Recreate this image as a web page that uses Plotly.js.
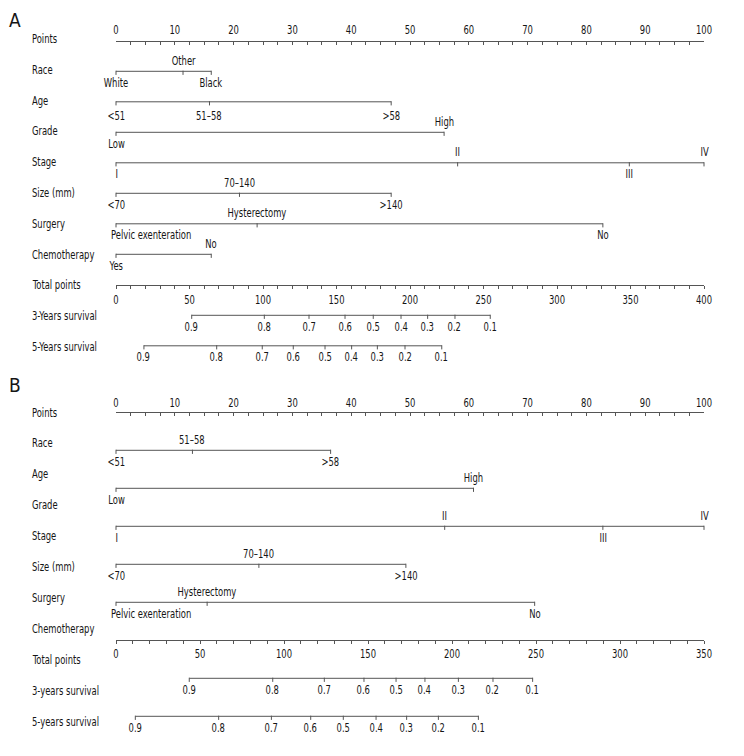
<!DOCTYPE html>
<html>
<head>
<meta charset="utf-8">
<script src="https://cdn.plot.ly/plotly-3.0.1.min.js"></script>
<style>html,body{margin:0;padding:0;background:#fff;}#chart{width:744px;height:756px;}svg text{-webkit-font-smoothing:antialiased;}</style>
</head>
<body>
<div id="chart"></div>
<script>
// ---------------- DATA ----------------
// Panel A
const aRowNames = ['Points','Race','Age','Grade','Stage','Size (mm)','Surgery','Chemotherapy','Total points','3-Years survival','5-Years survival'];
const aRaceLabels = ['White','Other','Black'];
const aRacePoints = [0, 11.4, 16.2];
const aAgeLabels = ['<51','51\u201358','>58'];
const aAgePoints = [0, 15.9, 46.8];
const aGradeLabels = ['Low','High'];
const aGradePoints = [0, 55.8];
const aStageLabels = ['I','II','III','IV'];
const aStagePoints = [0, 58.1, 87.3, 100];
const aSizeLabels = ['<70','70\u2013140','>140'];
const aSizePoints = [0, 21.0, 46.8];
const aSurgeryLabels = ['Pelvic exenteration','Hysterectomy','No'];
const aSurgeryPoints = [0, 24.0, 82.8];
const aChemoLabels = ['Yes','No'];
const aChemoPoints = [0, 16.2];
const aTotalMax = 400;
const survLabels = ['0.9','0.8','0.7','0.6','0.5','0.4','0.3','0.2','0.1'];
const aSurv3Total = [51.5, 100.9, 131.3, 155.8, 175.0, 193.9, 212.0, 230.6, 254.6];
const aSurv5Total = [19.0, 68.5, 99.5, 120.6, 142.2, 160.3, 177.8, 196.6, 221.6];

// Panel B
const bRowNames = ['Points','Race','Age','Grade','Stage','Size (mm)','Surgery','Chemotherapy','Total points','3-years survival','5-years survival'];
const bAgeLabels = ['<51','51\u201358','>58'];
const bAgePoints = [0, 13.0, 36.5];
const bGradeLabels = ['Low','High'];
const bGradePoints = [0, 60.8];
const bStageLabels = ['I','II','III','IV'];
const bStagePoints = [0, 55.9, 82.8, 100];
const bSizeLabels = ['<70','70\u2013140','>140'];
const bSizePoints = [0, 24.3, 49.3];
const bSurgeryLabels = ['Pelvic exenteration','Hysterectomy','No'];
const bSurgeryPoints = [0, 15.5, 71.2];
const bTotalMax = 350;
const bSurv3Total = [43.6, 93.3, 124.0, 147.6, 166.7, 183.9, 203.8, 224.4, 248.0];
const bSurv5Total = [11.5, 61.1, 92.5, 115.9, 135.3, 154.8, 173.0, 191.9, 215.7];

// ---------------- LAYOUT / STYLE ----------------
const W = 744, H = 756;
const FONT = '"DejaVu Sans Condensed", "Liberation Sans Narrow", "Liberation Sans", sans-serif';
const TXT = '#151515', LINE = '#555555', FS = 13;
const NARROW = 0.72;           // horizontal squeeze to mimic a condensed face
const mL = 116, mR = 40;
const plotW = W - mL - mR;
const nameX = (30 - mL) / plotW;

// row geometry (pixels from top)
const aNameY = i => 38.5 + 30.8 * i;
const aLineY = i => 40.8 + 30.5 * i;
const bNameY = i => 412 + 30.9 * i;
const bLineY = j => 412.3 + 38.0 * j;

// label sides (above / below)
const sideCat3 = ['below','above','below'];
const side2 = ['below','above'];
const sideStage = ['below','above','below','above'];
const sideAllBelow3 = ['below','below','below'];
const sideSurv = Array(9).fill('below');

const traces = [];
const annotations = [];

function addRow(xs, labels, sides, yLine, xref, below) {
  const off = below || 11;
  traces.push({
    type: 'scatter', mode: 'lines', xaxis: xref, yaxis: 'y',
    x: [Math.min(...xs), Math.max(...xs)], y: [yLine, yLine],
    line: {color: LINE, width: 1}, hoverinfo: 'skip', cliponaxis: false, showlegend: false
  });
  traces.push({
    type: 'scatter', mode: 'markers', xaxis: xref, yaxis: 'y',
    x: xs, y: xs.map(() => yLine + 1.5),
    marker: {symbol: 'line-ns', size: 3, line: {color: LINE, width: 1}},
    hoverinfo: 'skip', cliponaxis: false, showlegend: false
  });
  xs.forEach((v, k) => {
    const above = sides[k] === 'above';
    const long = v === Math.min(...xs) && labels[k].length > 6;
    annotations.push({
      xref: xref, yref: 'y', x: v, y: above ? yLine - 11 : yLine + off,
      text: labels[k], showarrow: false,
      xanchor: long ? 'left' : 'center', align: long ? 'left' : 'center',
      xshift: long ? -7 : 0, yanchor: 'middle',
      font: {family: FONT, size: FS, color: TXT}
    });
  });
}

// Panel A rows
addRow(aRacePoints, aRaceLabels, sideCat3, aLineY(1), 'x');
addRow(aAgePoints, aAgeLabels, sideAllBelow3, aLineY(2), 'x', 14);
addRow(aGradePoints, aGradeLabels, side2, aLineY(3), 'x');
addRow(aStagePoints, aStageLabels, sideStage, aLineY(4), 'x');
addRow(aSizePoints, aSizeLabels, sideCat3, aLineY(5), 'x');
addRow(aSurgeryPoints, aSurgeryLabels, sideCat3, aLineY(6), 'x');
addRow(aChemoPoints, aChemoLabels, side2, aLineY(7), 'x');
addRow(aSurv3Total, survLabels, sideSurv, aLineY(9), 'x2');
addRow(aSurv5Total, survLabels, sideSurv, aLineY(10), 'x2');

// Panel B rows
addRow(bAgePoints, bAgeLabels, sideCat3, bLineY(1), 'x3');
addRow(bGradePoints, bGradeLabels, side2, bLineY(2), 'x3');
addRow(bStagePoints, bStageLabels, sideStage, bLineY(3), 'x3');
addRow(bSizePoints, bSizeLabels, sideCat3, bLineY(4), 'x3');
addRow(bSurgeryPoints, bSurgeryLabels, sideCat3, bLineY(5), 'x3');
addRow(bSurv3Total, survLabels, sideSurv, bLineY(7), 'x4');
addRow(bSurv5Total, survLabels, sideSurv, bLineY(8), 'x4');

// row names
function nameAnn(t, y) {
  return {xref: 'paper', yref: 'y', x: nameX, y: y, text: t, showarrow: false,
    xanchor: 'left', align: 'left', yanchor: 'middle', font: {family: FONT, size: FS, color: TXT}};
}
aRowNames.forEach((t, i) => annotations.push(nameAnn(t, aNameY(i))));
bRowNames.forEach((t, i) => annotations.push(nameAnn(t, bNameY(i))));
// panel letters (kept unsqueezed: align right marks them)
[['A', 20], ['B', 385]].forEach(([t, y]) => annotations.push({
  xref: 'paper', yref: 'y', x: (15 - mL) / plotW, y: y, text: t, showarrow: false,
  xanchor: 'center', align: 'right', yanchor: 'middle', font: {family: FONT, size: 19, color: TXT}
}));

// invisible anchors so every axis is instantiated
['x2', 'x3', 'x4'].forEach(xa => traces.push({type: 'scatter', mode: 'markers', x: [0], y: [-50],
  xaxis: xa, yaxis: 'y', marker: {opacity: 0}, hoverinfo: 'skip', showlegend: false}));

function scaleAxis(range, dtick, minorDtick, yPix, side, standoff, overlay) {
  const tk = side === 'top' ? 'inside' : 'outside';
  const ax = {
    range: range, domain: [0, 1], anchor: 'free', position: 1 - yPix / H, side: side,
    showline: true, linecolor: LINE, linewidth: 1, showgrid: false, zeroline: false,
    ticks: tk, ticklen: 3, tickwidth: 1, tickcolor: LINE,
    dtick: dtick, tick0: 0, ticklabelstandoff: standoff,
    tickfont: {family: FONT, size: FS, color: TXT},
    minor: {dtick: minorDtick, tick0: 0, ticks: tk, ticklen: 3, tickwidth: 1, tickcolor: LINE, showgrid: false},
    fixedrange: true
  };
  if (overlay) ax.overlaying = 'x';
  return ax;
}

const layout = {
  width: W, height: H, margin: {l: mL, r: mR, t: 0, b: 0},
  paper_bgcolor: '#fff', plot_bgcolor: '#fff', showlegend: false,
  xaxis: scaleAxis([0, 100], 10, 2.5, aLineY(0), 'top', 2, false),
  xaxis2: scaleAxis([0, aTotalMax], 50, 10, aLineY(8), 'bottom', 0, true),
  xaxis3: scaleAxis([0, 100], 10, 2.5, bLineY(0), 'top', 0, true),
  xaxis4: scaleAxis([0, bTotalMax], 50, 10, bLineY(6), 'bottom', -2, true),
  yaxis: {range: [H, 0], domain: [0, 1], visible: false, fixedrange: true},
  annotations: annotations
};

function squeeze(el, mode) {
  const bb = el.getBBox();
  const cx = mode === 'start' ? bb.x : bb.x + bb.width / 2;
  const prev = el.getAttribute('transform') || '';
  el.setAttribute('transform', (prev + ' translate(' + cx + ',0) scale(' + NARROW + ',1) translate(' + (-cx) + ',0)').trim());
}

Plotly.newPlot('chart', traces, layout, {staticPlot: true, displayModeBar: false}).then(gd => {
  gd.querySelectorAll('.annotation-text').forEach(el => {
    const a = el.getAttribute('text-anchor');
    if (a === 'end') return;
    squeeze(el, a === 'start' ? 'start' : 'middle');
  });
  gd.querySelectorAll('.xtick text, .x2tick text, .x3tick text, .x4tick text').forEach(el => squeeze(el, 'middle'));
});
</script>
</body>
</html>
